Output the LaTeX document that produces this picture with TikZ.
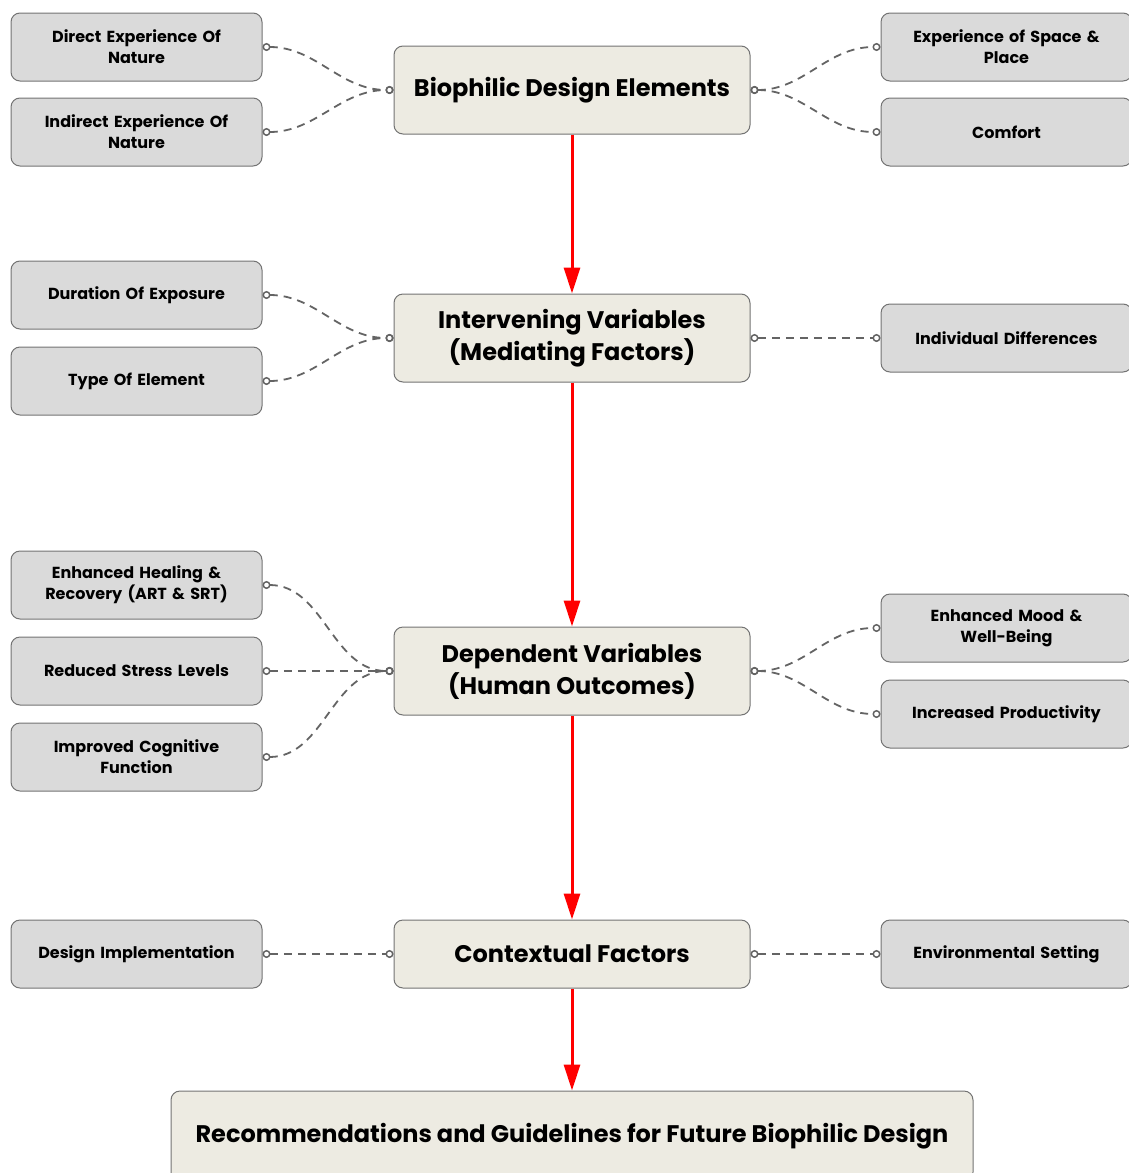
\documentclass[tikz,border=0pt]{standalone}
\usepackage{fontspec}
\setmainfont{Poppins}
\usetikzlibrary{arrows.meta,positioning}
\definecolor{CoreFill}{RGB}{237,235,226}
\definecolor{SideFill}{RGB}{218,218,218}
\definecolor{EdgeGray}{RGB}{115,115,115}
\definecolor{LinkGray}{RGB}{100,100,100}

\begin{document}
\begin{tikzpicture}[x=1pt,y=-1pt,
    core/.style={draw=EdgeGray, fill=CoreFill, line width=1pt, rounded corners=9pt,
      minimum width=356pt, minimum height=88pt, align=center,
      font=\bfseries\fontsize{24}{32}\selectfont},
    side/.style={draw=EdgeGray, fill=SideFill, line width=1pt, rounded corners=9pt,
      minimum width=251pt, minimum height=68pt, text width=235pt, align=center,
      font=\bfseries\fontsize{16}{21}\selectfont},
    link/.style={LinkGray, line width=1.8pt, dash pattern=on 8pt off 6pt,
      {Circle[open,length=8pt,width=8pt,line width=1.5pt]}-{Circle[open,length=8pt,width=8pt,line width=1.5pt]}},
    flow/.style={red, line width=3pt, -{Triangle[length=26pt,width=16pt]}}]
      \clip (0,0) rectangle (1129,1173);

      % main chain
      \node[core] (bio) at (572,90) {Biophilic Design Elements};
      \node[core] (inter) at (572,338) {Intervening Variables\\(Mediating Factors)};
      \node[core] (dep) at (572,671) {Dependent Variables\\(Human Outcomes)};
      \node[core, minimum height=68pt] (ctx) at (572,954) {Contextual Factors};
      \node[core, minimum width=802pt, minimum height=90pt] (rec) at (572,1136) {Recommendations and Guidelines for Future Biophilic Design};

      \draw[flow] (bio.south) -- (inter.north);
      \draw[flow] (inter.south) -- (dep.north);
      \draw[flow] (dep.south) -- (ctx.north);
      \draw[flow] (ctx.south) -- (rec.north);

      % left side
      \node[side] (direct) at (136.5,47) {Direct Experience Of\\Nature};
      \node[side] (indirect) at (136.5,132) {Indirect Experience Of\\Nature};
      \node[side] (duration) at (136.5,295) {Duration Of Exposure};
      \node[side] (type) at (136.5,381) {Type Of Element};
      \node[side] (healing) at (136.5,585) {Enhanced Healing \&\\Recovery (ART \& SRT)};
      \node[side] (stress) at (136.5,671) {Reduced Stress Levels};
      \node[side] (cognitive) at (136.5,757) {Improved Cognitive\\Function};
      \node[side] (implement) at (136.5,954) {Design Implementation};

      % right side
      \node[side] (space) at (1006.5,47) {Experience of Space \&\\Place};
      \node[side] (comfort) at (1006.5,132) {Comfort};
      \node[side] (indiv) at (1006.5,338) {Individual Differences};
      \node[side] (mood) at (1006.5,628) {Enhanced Mood \&\\Well-Being};
      \node[side] (product) at (1006.5,714) {Increased Productivity};
      \node[side] (setting) at (1006.5,954) {Environmental Setting};

      \draw[link] (direct.east) to[out=0,in=180] (bio.west);
      \draw[link] (indirect.east) to[out=0,in=180] (bio.west);
      \draw[link] (duration.east) to[out=0,in=180] (inter.west);
      \draw[link] (type.east) to[out=0,in=180] (inter.west);
      \draw[link] (healing.east) to[out=0,in=180] (dep.west);
      \draw[link] (stress.east) -- (dep.west);
      \draw[link] (cognitive.east) to[out=0,in=180] (dep.west);
      \draw[link] (implement.east) -- (ctx.west);

      \draw[link] (bio.east) to[out=0,in=180] (space.west);
      \draw[link] (bio.east) to[out=0,in=180] (comfort.west);
      \draw[link] (inter.east) -- (indiv.west);
      \draw[link] (dep.east) to[out=0,in=180] (mood.west);
      \draw[link] (dep.east) to[out=0,in=180] (product.west);
      \draw[link] (ctx.east) -- (setting.west);
    \end{tikzpicture}
\end{document}
